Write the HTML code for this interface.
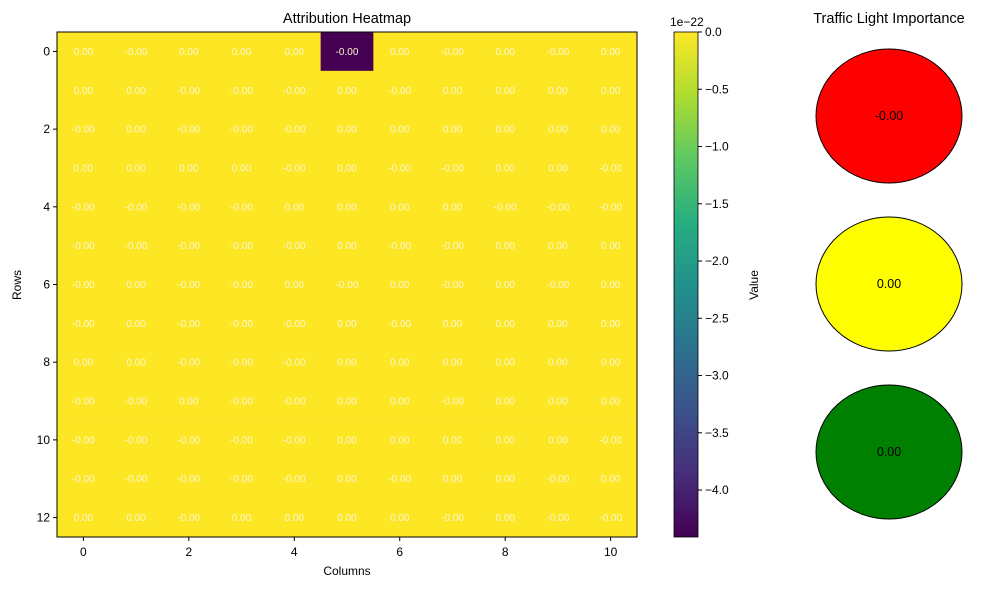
<!DOCTYPE html>
<html><head><meta charset="utf-8"><style>
body{margin:0;background:#fff;}
svg{display:block;font-family:"Liberation Sans",sans-serif;}
</style></head><body>
<svg id="chart" width="997" height="590">
<defs><linearGradient id="vir" x1="0" y1="1" x2="0" y2="0">
<stop offset="0" stop-color="#440154"/><stop offset="0.125" stop-color="#472d7b"/><stop offset="0.25" stop-color="#3b528b"/><stop offset="0.375" stop-color="#2c728e"/><stop offset="0.5" stop-color="#21918c"/><stop offset="0.625" stop-color="#28ae80"/><stop offset="0.75" stop-color="#5ec962"/><stop offset="0.875" stop-color="#addc30"/><stop offset="1" stop-color="#fde725"/>
</linearGradient></defs>
<g id="heat"></g>
<g id="cbar"></g>
<g id="lights"></g>
</svg>
<script>
const signs = [
"+-+++-+-+-+",
"++---+-++++",
"-+---++++++",
"++++-+--++-",
"----++++---",
"-----+--+++",
"-+--+-+-+-+",
"-+---+-++++",
"++---++++++",
"--+--++-+++",
"-----+++++-",
"-----+-++-+",
"++-++++-+--"
];
const darkValue = -4.41e-22;
const tinyMag = 1e-25;
const colTicks = [0,2,4,6,8,10];
const rowTicks = [0,2,4,6,8,10,12];
const cbarTicks = [0,-0.5,-1,-1.5,-2,-2.5,-3,-3.5,-4];
const lightLabels = ["-0.00","0.00","0.00"];
const lightColors = ["#ff0000","#ffff00","#008000"];

const values = signs.map((s,r)=>s.split('').map((c,j)=>(r===0&&j===5)?darkValue:(c==='-'?-tinyMag:tinyMag)));
const NS="http://www.w3.org/2000/svg";
function mk(tag,attrs,parent,text){const e=document.createElementNS(NS,tag);for(const k in attrs)e.setAttribute(k,attrs[k]);if(text!==undefined)e.textContent=text;parent.appendChild(e);return e;}
const X0=57,X1=637,Y0=32,Y1=537,nC=11,nR=13;
const cw=(X1-X0)/nC, ch=(Y1-Y0)/nR;
const xs=i=>X0+(i+0.5)*cw, ys=r=>Y0+(r+0.5)*ch;
const vmin=Math.min(...values.flat()), vmax=0;
const stops=[[68,1,84],[71,45,123],[59,82,139],[44,114,142],[33,145,140],[40,174,128],[94,201,98],[173,220,48],[253,231,37]];
function viridis(v){let t=(v-vmin)/(vmax-vmin);t=Math.max(0,Math.min(1,t))*8;const i=Math.min(7,Math.floor(t)),f=t-i;const a=stops[i],b=stops[i+1];return `rgb(${a.map((x,k)=>Math.round(x+(b[k]-x)*f)).join(',')})`;}
const heat=document.getElementById('heat');
values.forEach((row,r)=>row.forEach((v,j)=>{
  const rect=mk('rect',{x:X0+j*cw,y:Y0+r*ch,width:cw+0.5,height:ch+0.5,fill:viridis(v)},heat);
  
  
  const t=mk('text',{x:xs(j),y:ys(r)+3.5,'text-anchor':'middle','font-size':'10',fill:'#fbf6d2'},heat,v.toFixed(2));
  
  
}));
mk('rect',{x:X0,y:Y0,width:X1-X0,height:Y1-Y0,fill:'none',stroke:'#000','stroke-width':1},heat);
colTicks.forEach(c=>{mk('line',{x1:xs(c),x2:xs(c),y1:Y1,y2:Y1+4,stroke:'#000'},heat);
  const t=mk('text',{x:xs(c),y:Y1+19,'text-anchor':'middle','font-size':'12'},heat,String(c));
  });
rowTicks.forEach(r=>{mk('line',{x1:X0-4,x2:X0,y1:ys(r),y2:ys(r),stroke:'#000'},heat);
  const t=mk('text',{x:X0-7,y:ys(r)+4,'text-anchor':'end','font-size':'12'},heat,String(r));
  });
mk('text',{x:(X0+X1)/2,y:575,'text-anchor':'middle','font-size':'12',},heat,'Columns');
mk('text',{x:21,y:285,'text-anchor':'middle','font-size':'12',transform:'rotate(-90 21 285)',},heat,'Rows');
mk('text',{x:347,y:23,'text-anchor':'middle','font-size':'14.5',},heat,'Attribution Heatmap');
const cb=document.getElementById('cbar');const CX=674,CW=24;
mk('rect',{x:CX,y:Y0,width:CW,height:Y1-Y0,fill:'url(#vir)',stroke:'#000','stroke-width':0.8},cb);
const cy=v=>Y0+(vmax-v*1e-22)/(vmax-vmin)*(Y1-Y0);
cbarTicks.forEach(v=>{const y=cy(v);mk('line',{x1:CX+CW,x2:CX+CW+4,y1:y,y2:y,stroke:'#000'},cb);
  const t=mk('text',{x:CX+CW+7,y:y+4,'font-size':'12'},cb,v===0?'0.0':'\u2212'+Math.abs(v).toFixed(1));
  });
mk('text',{x:CX-4,y:26,'font-size':'12',},cb,'1e\u221222');
mk('text',{x:758,y:285,'text-anchor':'middle','font-size':'12',transform:'rotate(-90 758 285)',},cb,'Value');
const lg=document.getElementById('lights');
mk('text',{x:889,y:23,'text-anchor':'middle','font-size':'14.5',},lg,'Traffic Light Importance');
lightLabels.forEach((l,i)=>{const cyy=116+i*168;
  const e=mk('ellipse',{cx:889,cy:cyy,rx:73,ry:67,fill:lightColors[i],stroke:'#000','stroke-width':1},lg);
  
  const t=mk('text',{x:889,y:cyy+4,'text-anchor':'middle','font-size':'12.5'},lg,l);
  });
</script>
</body></html>
